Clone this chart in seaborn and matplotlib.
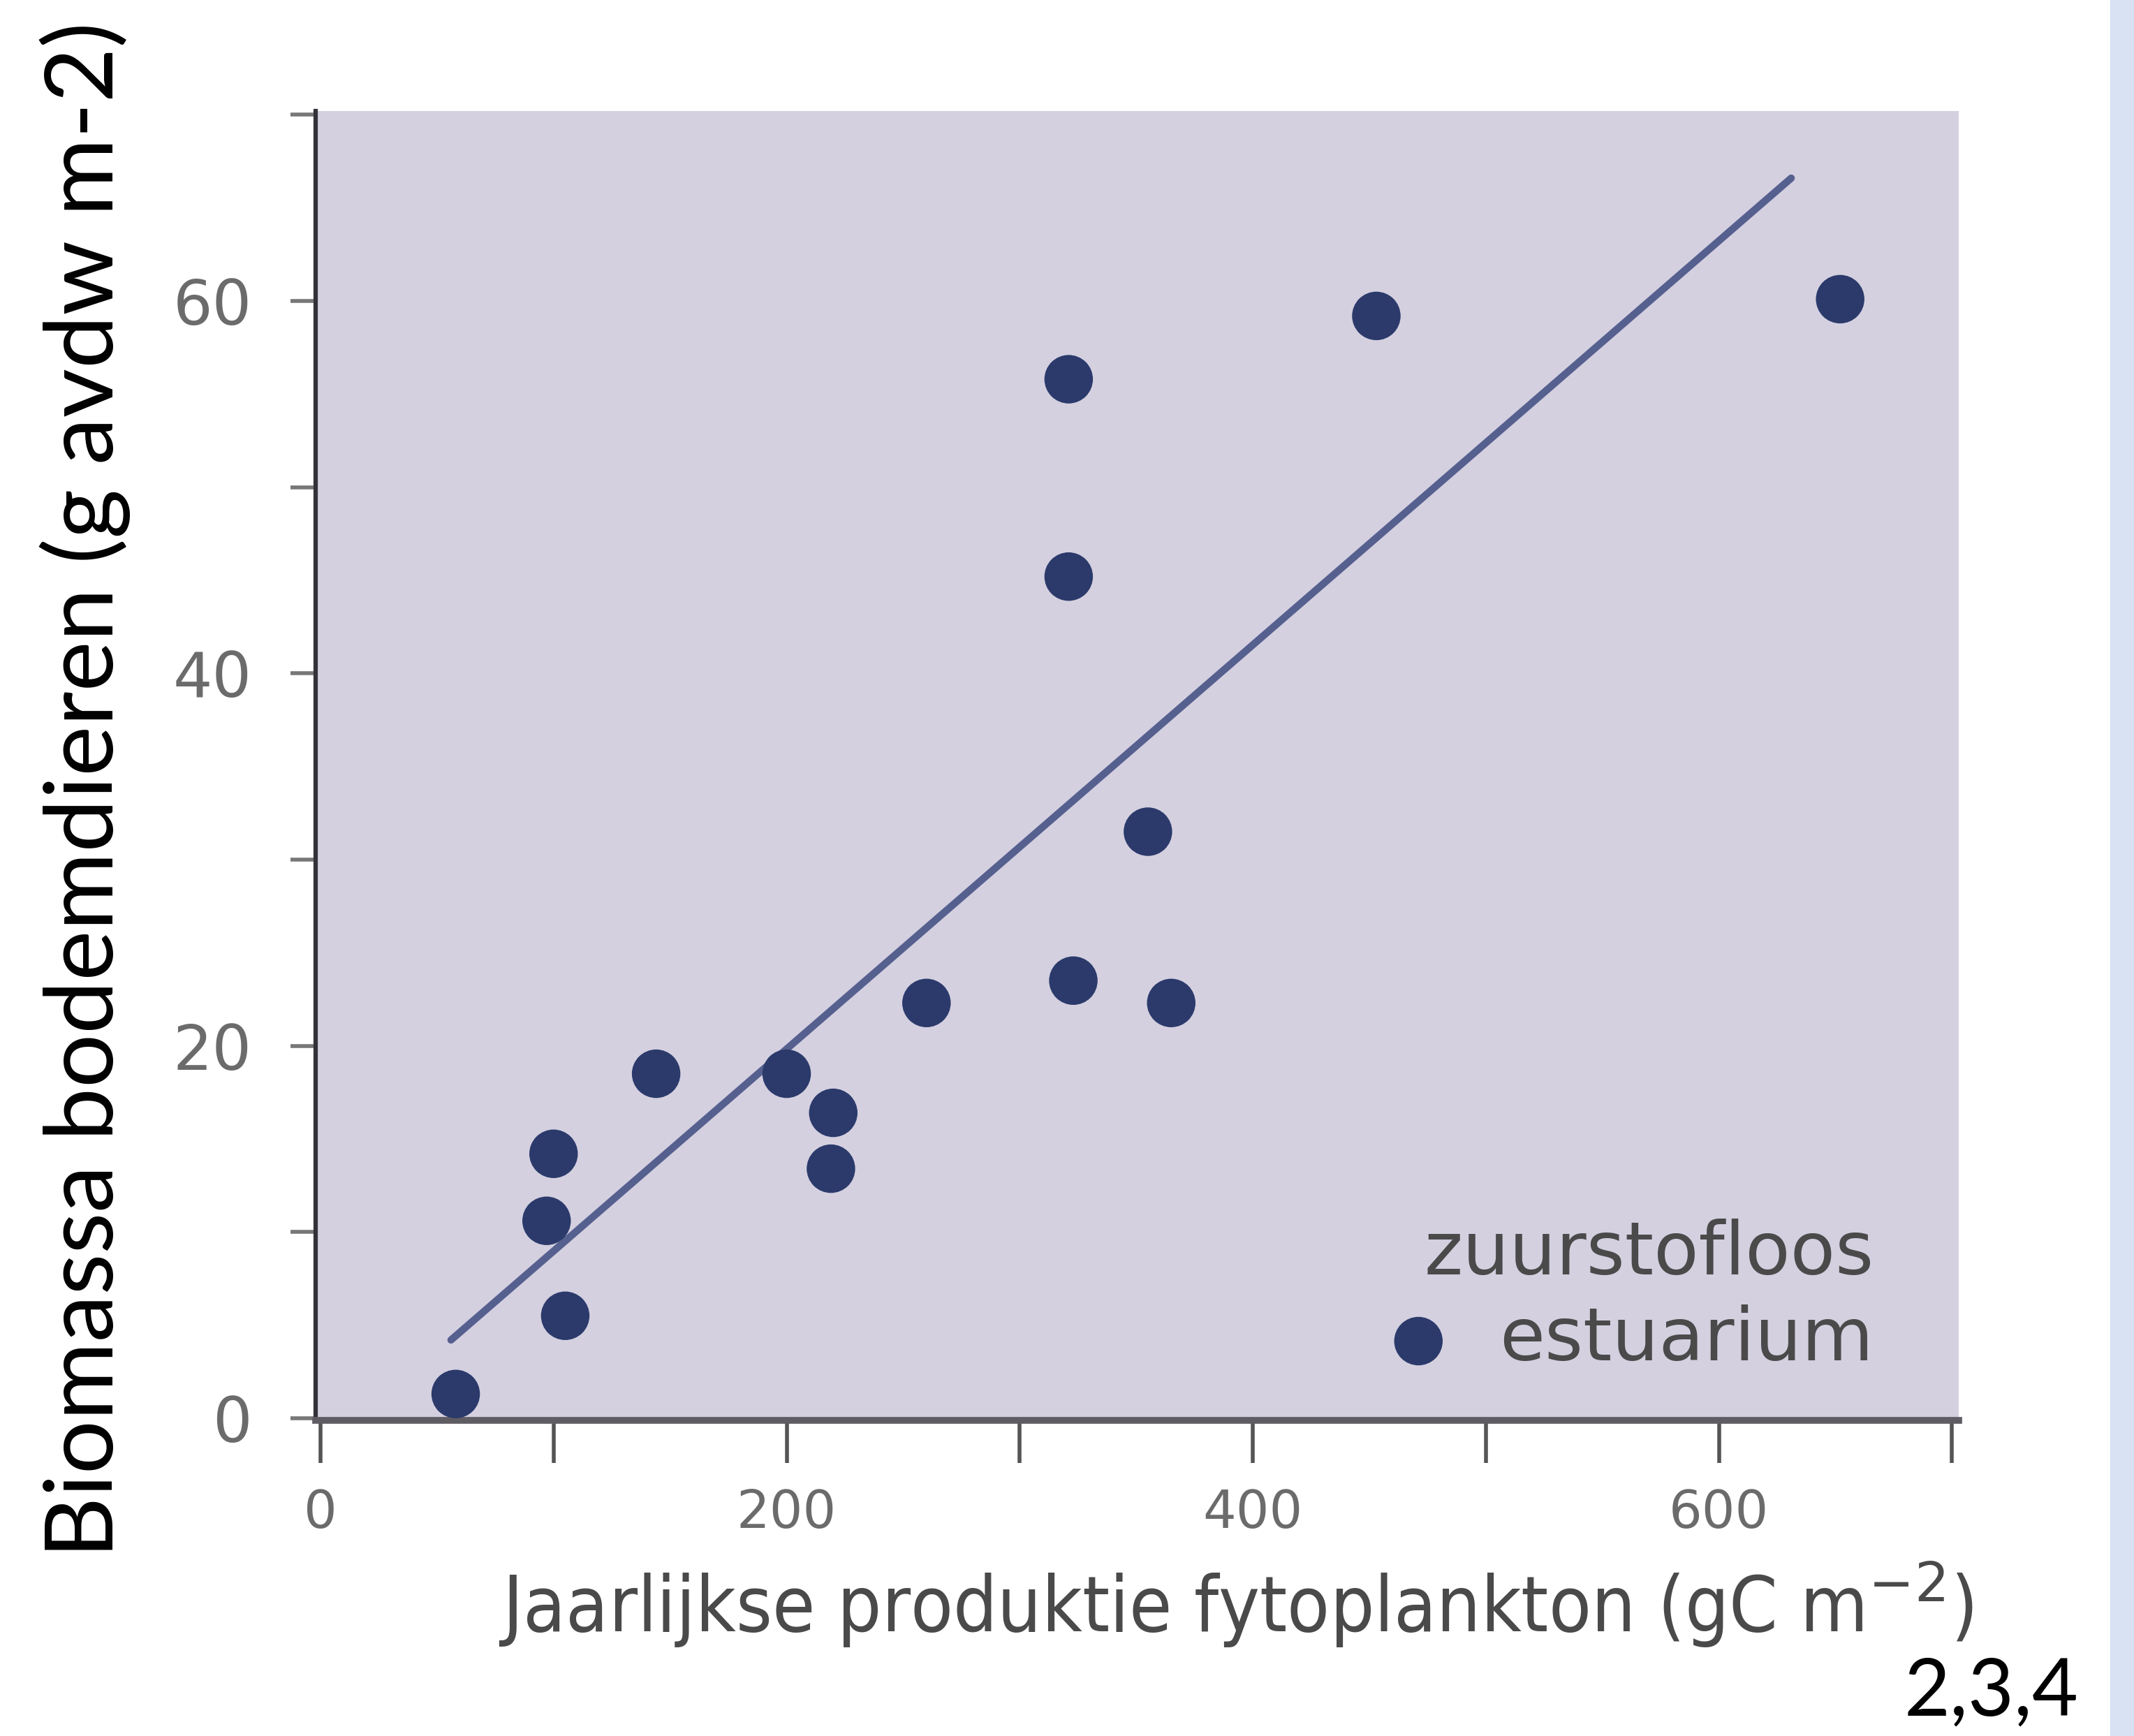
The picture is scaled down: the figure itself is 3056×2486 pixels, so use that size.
import matplotlib
matplotlib.use("Agg")
import matplotlib.pyplot as plt
import seaborn as sns
import pandas as pd

# gelezen waarden uit de figuur
productie = [58, 105, 97, 100, 144, 200, 220, 219, 260, 321, 321, 323, 355, 365, 453, 652]
biomassa = [1.3, 5.5, 10.6, 14.2, 18.5, 18.5, 16.4, 13.4, 22.3, 55.8, 45.2, 23.5, 31.5, 22.3, 59.2, 60.1]
lijn_x = [56, 631]
lijn_y = [4.2, 66.6]
x_ticks = [0, 100, 200, 300, 400, 500, 600, 700]
x_labels = ["0", "", "200", "", "400", "", "600", ""]
y_ticks = [0, 10, 20, 30, 40, 50, 60, 70]
y_labels = ["0", "", "20", "", "40", "", "60", ""]

sns.set_style("white")
narrow = ['DejaVu Sans Condensed', 'DejaVu Sans']
plt.rcParams['font.family'] = narrow

df = pd.DataFrame({'x': productie, 'y': biomassa})

fig = plt.figure(figsize=(30.56, 24.86), dpi=100)
# lichtblauwe strook rechts
fig.patches.append(plt.Rectangle((3022 / 3056, 0), 1, 1, transform=fig.transFigure,
                                 color='#d9e2f3', zorder=0))

ax = fig.add_axes([0.148, 0.182, 0.770, 0.754])
ax.set_facecolor('#d4d0e0')

sns.lineplot(x=lijn_x, y=lijn_y, ax=ax, color='#56608f', linewidth=7.5, zorder=2)
sns.scatterplot(data=df, x='x', y='y', ax=ax, color='#2b3a6b', s=2500,
                edgecolor='none', label='estuarium', zorder=3)

ax.set_xlim(-2, 703)
ax.set_ylim(-0.1, 70.2)
ax.set_xticks(x_ticks)
ax.set_xticklabels(x_labels)
ax.set_yticks(y_ticks)
ax.set_yticklabels(y_labels)

for s in ['top', 'right']:
    ax.spines[s].set_visible(False)
ax.spines['left'].set_color('#333238')
ax.spines['left'].set_linewidth(4.5)
ax.spines['bottom'].set_color('#5f5d63')
ax.spines['bottom'].set_linewidth(7)

ax.tick_params(axis='x', direction='out', length=44, width=4, color='#555555',
               labelsize=54, labelcolor='#6b6b6b', pad=26)
ax.tick_params(axis='y', direction='out', length=26, width=4, color='#777777',
               labelsize=64, labelcolor='#6b6b6b', pad=40)
ax.tick_params(bottom=True, left=True)

ax.set_xlabel('Jaarlijkse produktie fytoplankton (gC m$^{-2}$)', fontsize=80,
              color='#4a4a4a', labelpad=22, x=0.56, fontstretch='condensed')
ax.set_ylabel('')

fig.text(0.040, 0.545, 'Biomassa bodemdieren (g avdw m-2)', rotation=90,
         ha='center', va='center', fontsize=98, color='black',
         family=['Lato', 'DejaVu Sans'])
fig.text(0.933, 0.004, '2,3,4', ha='center', va='bottom', fontsize=82,
         color='black', family=['Lato', 'DejaVu Sans'])

leg = ax.legend(title='zuurstofloos', loc='lower right', frameon=False,
                fontsize=76, title_fontsize=76, handletextpad=0.1,
                bbox_to_anchor=(0.975, 0.0), borderaxespad=0.2, markerscale=1.0,
                labelspacing=0.2)
leg._legend_box.align = 'right'
leg.get_title().set_color('#4a4a4a')
for t in leg.get_texts():
    t.set_color('#4a4a4a')

fig.savefig('out.png', dpi=100, facecolor='white')
